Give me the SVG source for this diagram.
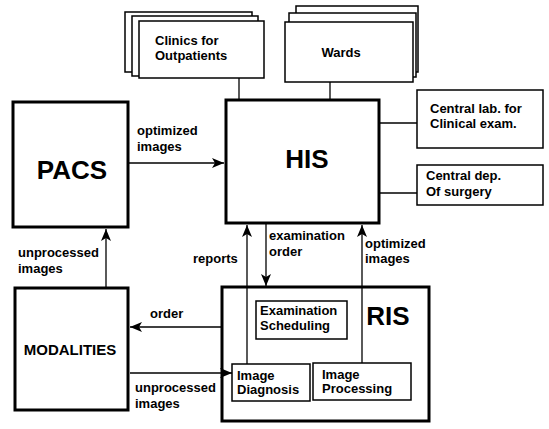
<svg xmlns="http://www.w3.org/2000/svg" width="549" height="429" viewBox="0 0 549 429">
<defs>
<marker id="arr" viewBox="0 0 12 10" refX="12" refY="5" markerWidth="12" markerHeight="10" markerUnits="userSpaceOnUse" orient="auto">
<path d="M0,0 L12,5 L0,10 L3,5 z" fill="#000"/>
</marker>
<style>
.thick{fill:#fff;stroke:#000;stroke-width:3}
.thin{fill:#fff;stroke:#000;stroke-width:1.5}
.line{fill:none;stroke:#000;stroke-width:1.3}
.arrow{fill:none;stroke:#000;stroke-width:1.3;marker-end:url(#arr)}
text{font-family:"Liberation Sans",Arial,sans-serif;fill:#000}
.lbl{font-size:13px;font-weight:bold}
.inner{font-size:13px;font-weight:bold}
.big{font-size:26px;font-weight:bold}
</style>
</defs>
<rect width="549" height="429" fill="#fff"/>

<g id="clinics">
<rect class="thin" x="125" y="12" width="127" height="60"/>
<rect class="thin" x="132" y="16" width="126" height="60"/>
<rect class="thin" x="139" y="21" width="125" height="57"/>
<text class="lbl" x="155" y="45">Clinics for</text>
<text class="lbl" x="155" y="60">Outpatients</text>
</g>

<g id="wards">
<rect class="thin" x="296" y="6" width="122" height="66"/>
<rect class="thin" x="289" y="13" width="127" height="64"/>
<rect class="thin" x="285" y="22" width="128" height="60"/>
<text class="lbl" x="341" y="57" text-anchor="middle">Wards</text>
</g>

<g id="central-lab">
<rect class="thin" x="417" y="90" width="126" height="58"/>
<text class="lbl" x="430" y="113">Central lab. for</text>
<text class="lbl" x="430" y="128">Clinical exam.</text>
</g>

<g id="central-dep">
<rect class="thin" x="417" y="165" width="126" height="40"/>
<text class="lbl" x="426" y="180">Central dep.</text>
<text class="lbl" x="426" y="196">Of surgery</text>
</g>

<g id="his">
<rect class="thick" x="226" y="100" width="153" height="123"/>
<text class="big" x="307" y="168" text-anchor="middle">HIS</text>
</g>

<g id="pacs">
<rect class="thick" x="13" y="102" width="115" height="125"/>
<text class="big" x="72" y="179" text-anchor="middle">PACS</text>
</g>

<g id="modalities">
<rect class="thick" x="15" y="288" width="113" height="122"/>
<text x="70" y="355" text-anchor="middle" style="font-size:15px;font-weight:bold">MODALITIES</text>
</g>

<g id="ris">
<rect class="thick" x="222" y="287" width="207" height="134"/>
<text x="388" y="325" text-anchor="middle" style="font-size:26px;font-weight:bold">RIS</text>
</g>

<g id="exam-scheduling">
<rect class="thin" x="256" y="301" width="91" height="38"/>
<text class="inner" x="260" y="315">Examination</text>
<text class="inner" x="260" y="330">Scheduling</text>
</g>

<g id="image-diagnosis">
<rect class="thin" x="232" y="364" width="78" height="37"/>
<text class="inner" x="237" y="380">Image</text>
<text class="inner" x="237" y="394">Diagnosis</text>
</g>

<g id="image-processing">
<rect class="thin" x="313" y="363" width="98" height="37"/>
<text class="inner" x="322" y="379">Image</text>
<text class="inner" x="322" y="393">Processing</text>
</g>

<g id="connectors">
<line class="line" x1="239" y1="78" x2="239" y2="99"/>
<line class="line" x1="330" y1="82" x2="330" y2="99"/>
<line class="line" x1="380" y1="123" x2="417" y2="123"/>
<line class="line" x1="380" y1="193" x2="417" y2="193"/>
<line class="arrow" x1="129" y1="163" x2="224" y2="163"/>
<line class="arrow" x1="106" y1="287" x2="106" y2="229"/>
<line class="arrow" x1="221" y1="327" x2="130" y2="327"/>
<line class="arrow" x1="130" y1="373" x2="232" y2="373"/>
<line class="arrow" x1="247" y1="364" x2="247" y2="225"/>
<line class="arrow" x1="266" y1="224" x2="266" y2="286"/>
<line class="arrow" x1="362" y1="363" x2="362" y2="225"/>
<text class="lbl" x="137" y="135">optimized</text>
<text class="lbl" x="137" y="151">images</text>
<text class="lbl" x="18" y="257">unprocessed</text>
<text class="lbl" x="18" y="273">images</text>
<text class="lbl" x="150" y="318">order</text>
<text class="lbl" x="135" y="392">unprocessed</text>
<text class="lbl" x="135" y="408">images</text>
<text class="lbl" x="193" y="263">reports</text>
<text class="lbl" x="269" y="240">examination</text>
<text class="lbl" x="269" y="256">order</text>
<text class="lbl" x="365" y="248">optimized</text>
<text class="lbl" x="365" y="263">images</text>
</g>
</svg>
